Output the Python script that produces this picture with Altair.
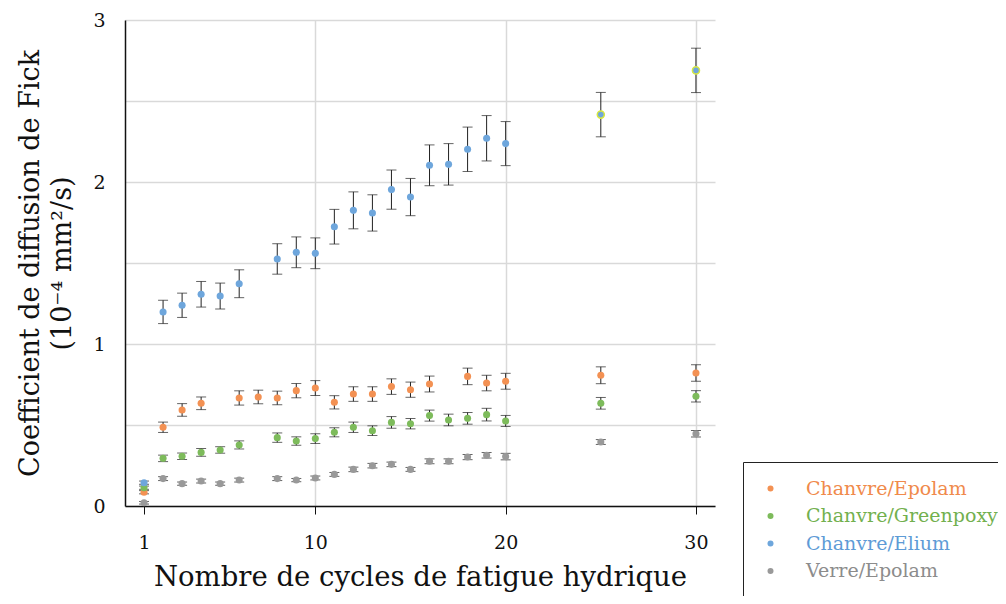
import altair as alt
import pandas as pd

series_names = ["Chanvre/Epolam", "Chanvre/Greenpoxy", "Chanvre/Elium", "Verre/Epolam"]
series_colors = ["#F39153", "#7DBB5B", "#6EA6DC", "#999999"]
label_colors = ["#F08A4B", "#72B04E", "#5E9BD6", "#8C8C8C"]

cycles_epolam = [1, 2, 3, 4, 6, 7, 8, 9, 10, 11, 12, 13, 14, 15, 16, 18, 19, 20, 25, 30]
epolam = [0.085, 0.486, 0.593, 0.634, 0.667, 0.673, 0.667, 0.712, 0.728, 0.640, 0.691, 0.691,
          0.737, 0.718, 0.753, 0.800, 0.759, 0.770, 0.807, 0.821]
epolam_err = [0.01, 0.032, 0.039, 0.039, 0.044, 0.042, 0.042, 0.044, 0.046, 0.041, 0.045, 0.045,
              0.048, 0.047, 0.049, 0.051, 0.048, 0.049, 0.052, 0.051]

cycles_std = [1, 2, 3, 4, 5, 6, 8, 9, 10, 11, 12, 13, 14, 15, 16, 17, 18, 19, 20, 25, 30]
greenpoxy = [0.113, 0.294, 0.307, 0.331, 0.346, 0.377, 0.422, 0.401, 0.416, 0.455, 0.486, 0.465,
             0.516, 0.508, 0.558, 0.531, 0.541, 0.564, 0.525, 0.634, 0.677]
greenpoxy_err = [0.01, 0.02, 0.02, 0.024, 0.02, 0.025, 0.029, 0.026, 0.03, 0.028, 0.032, 0.03,
                 0.036, 0.032, 0.034, 0.036, 0.036, 0.039, 0.034, 0.036, 0.035]

elium = [0.144, 1.198, 1.239, 1.307, 1.296, 1.372, 1.525, 1.566, 1.560, 1.724, 1.825, 1.809,
         1.953, 1.907, 2.103, 2.109, 2.202, 2.270, 2.237, 2.416, 2.689]
elium_err = [0.01, 0.072, 0.075, 0.079, 0.08, 0.086, 0.094, 0.095, 0.095, 0.107, 0.114, 0.112,
             0.121, 0.115, 0.126, 0.128, 0.137, 0.14, 0.136, 0.137, 0.137]

verre = [0.02, 0.169, 0.138, 0.154, 0.138, 0.160, 0.169, 0.160, 0.173, 0.195, 0.226, 0.249,
         0.257, 0.226, 0.276, 0.276, 0.302, 0.313, 0.305, 0.395, 0.446]
verre_err = [0.008, 0.012, 0.01, 0.012, 0.01, 0.012, 0.012, 0.01, 0.012, 0.012, 0.014, 0.014,
             0.014, 0.012, 0.015, 0.015, 0.016, 0.017, 0.02, 0.015, 0.02]

highlight_cycles = [25, 30]  # Elium points drawn with a yellow outline

rows = []
for name, cyc, vals, errs in [
    (series_names[0], cycles_epolam, epolam, epolam_err),
    (series_names[1], cycles_std, greenpoxy, greenpoxy_err),
    (series_names[2], cycles_std, elium, elium_err),
    (series_names[3], cycles_std, verre, verre_err),
]:
    for c, v, e in zip(cyc, vals, errs):
        rows.append({"serie": name, "cycle": c, "D": v, "lo": v - e, "hi": v + e,
                     "hl": name == "Chanvre/Elium" and c in highlight_cycles})
df = pd.DataFrame(rows)

FONT = "DejaVu Serif"

x_scale = alt.Scale(domain=[0, 31], nice=False, zero=False)
y_scale = alt.Scale(domain=[0, 3], nice=False)

label_expr = " : ".join(
    f"datum.value == '{n}' ? '{c}'" for n, c in zip(series_names, label_colors)
) + " : '#888888'"

color = alt.Color(
    "serie:N",
    scale=alt.Scale(domain=series_names, range=series_colors),
    legend=alt.Legend(
        title=None, orient="none", legendX=618, legendY=442,
        strokeColor="#222222", fillColor="white", padding=17,
        symbolType="circle", symbolSize=36, symbolOffset=1,
        labelFont=FONT, labelFontSize=19, labelOffset=26,
        labelColor={"expr": label_expr}, rowPadding=7.5, labelLimit=400,
    ),
)

x_enc = alt.X(
    "cycle:Q", scale=x_scale,
    axis=alt.Axis(
        values=[1, 10, 20, 30], title="Nombre de cycles de fatigue hydrique",
        titleFont=FONT, titleFontSize=27.5, titleFontWeight="normal", titleColor="#111111",
        titlePadding=11, labelFont=FONT, labelFontSize=19, labelColor="#111111",
        labelPadding=19, tickSize=8, tickColor="#111111", domainColor="#111111",
        domainWidth=1.5, gridColor={"condition": {"test": "datum.value == 1", "value": "transparent"},
                                     "value": "#d9d9d9"},
        gridWidth=1.5,
    ),
)
y_axis = alt.Axis(
    values=[0, 0.5, 1, 1.5, 2, 2.5, 3],
    labelExpr="datum.value % 1 == 0 ? format(datum.value, 'd') : ''",
    title=["Coefficient de diffusion de Fick", "(10⁻⁴ mm²/s)"],
    titleFont=FONT, titleFontSize=27, titleFontWeight="normal", titleColor="#111111",
    titleLineHeight=32, titlePadding=16,
    labelFont=FONT, labelFontSize=19, labelColor="#111111", labelPadding=20,
    ticks=False, domainColor="#111111", domainWidth=1.5,
    gridColor="#d9d9d9", gridWidth=1.5,
)

base = alt.Chart(df)

bars = base.mark_errorbar(ticks={"size": 10, "thickness": 1}, color="#222222", thickness=1).encode(
    x=x_enc,
    y=alt.Y("lo:Q", scale=y_scale, axis=y_axis, title=None),
    y2="hi:Q",
)

points = base.mark_circle(size=50, opacity=1).encode(
    x=alt.X("cycle:Q", scale=x_scale),
    y=alt.Y("D:Q", scale=y_scale),
    color=color,
)

hl = base.transform_filter("datum.hl").mark_circle(
    size=50, opacity=1, stroke="#D8E840", strokeWidth=1.5, fill="#6EA6DC"
).encode(
    x=alt.X("cycle:Q", scale=x_scale),
    y=alt.Y("D:Q", scale=y_scale),
)

chart = alt.layer(bars, points, hl).properties(
    width=590, height=486,
    autosize=alt.AutoSizeParams(type="none"),
    padding={"left": 117, "top": 12, "right": 283, "bottom": 90},
).configure_view(stroke=None)

chart.save("out.html", embed_options={"renderer": "svg", "actions": False})
